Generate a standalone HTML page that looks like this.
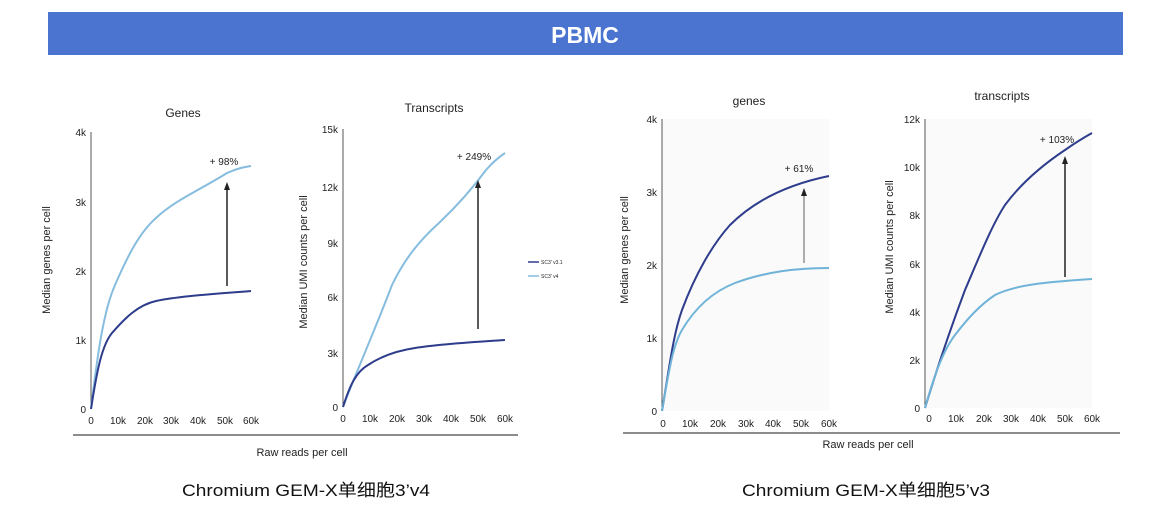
<!DOCTYPE html>
<html><head><meta charset="utf-8"><style>
body{margin:0;background:#fff;width:1155px;height:530px;overflow:hidden}
svg{display:block}
text{font-family:"Liberation Sans",Arial,sans-serif;fill:#222}
</style></head><body>
<svg width="1155" height="530" viewBox="0 0 1155 530" xmlns="http://www.w3.org/2000/svg">
<rect x="48" y="12" width="1075" height="43" fill="#4a74cf"/>
<text x="585" y="43" text-anchor="middle" font-size="23" font-weight="bold" style="fill:#fff">PBMC</text>

<g font-size="10" fill="none">
<!-- Chart 1 Genes -->
<text x="183" y="117" text-anchor="middle" font-size="12">Genes</text>
<line x1="91" y1="132" x2="91" y2="409" stroke="#555"/>
<g text-anchor="end" font-size="10"><text x="86" y="413">0</text><text x="86" y="344">1k</text><text x="86" y="275">2k</text><text x="86" y="206">3k</text><text x="86" y="136">4k</text></g>
<g text-anchor="middle" font-size="10"><text x="91" y="424">0</text><text x="118" y="424">10k</text><text x="145" y="424">20k</text><text x="171" y="424">30k</text><text x="198" y="424">40k</text><text x="225" y="424">50k</text><text x="251" y="424">60k</text></g>
<text transform="translate(50,260) rotate(-90)" text-anchor="middle" font-size="11">Median genes per cell</text>
<path d="M91,409 C98,350 104,310 115,285 C128,255 140,232 156,218 C175,200 200,190 227,173 C238,168 245,167 251,166" stroke="#86bddf" stroke-width="2" fill="none"/>
<path d="M91,409 C97,370 102,345 112,333 C125,318 138,305 156,301 C180,296 215,294 251,291" stroke="#2e3c8c" stroke-width="2" fill="none"/>
<line x1="227" y1="286" x2="227" y2="188" stroke="#222" stroke-width="1.5"/><path d="M224,190 L227,182 L230,190Z" fill="#222"/>
<text x="224" y="165" text-anchor="middle" font-size="10">+ 98%</text>

<!-- Chart 2 Transcripts -->
<text x="434" y="112" text-anchor="middle" font-size="12">Transcripts</text>
<line x1="343" y1="129" x2="343" y2="407" stroke="#555"/>
<g text-anchor="end" font-size="10"><text x="338" y="411">0</text><text x="338" y="357">3k</text><text x="338" y="301">6k</text><text x="338" y="247">9k</text><text x="338" y="191">12k</text><text x="338" y="133">15k</text></g>
<g text-anchor="middle" font-size="10"><text x="343" y="422">0</text><text x="370" y="422">10k</text><text x="397" y="422">20k</text><text x="424" y="422">30k</text><text x="451" y="422">40k</text><text x="478" y="422">50k</text><text x="505" y="422">60k</text></g>
<text transform="translate(307,262) rotate(-90)" text-anchor="middle" font-size="11">Median UMI counts per cell</text>
<path d="M343,407 C355,375 375,330 392,285 C405,258 420,240 440,222 C460,203 475,185 486,170 C493,162 499,157 505,153" stroke="#86bddf" stroke-width="2" fill="none"/>
<path d="M343,407 C350,385 356,372 368,365 C380,357 395,351 415,348 C440,344 475,342 505,340" stroke="#2e3c8c" stroke-width="2" fill="none"/>
<line x1="478" y1="329" x2="478" y2="186" stroke="#222" stroke-width="1.5"/><path d="M475,188 L478,180 L481,188Z" fill="#222"/>
<text x="474" y="160" text-anchor="middle" font-size="10">+ 249%</text>
<line x1="528" y1="262" x2="539" y2="262" stroke="#2e3c8c" stroke-width="1.5"/><text x="541" y="264" font-size="5">SC3' v3.1</text>
<line x1="528" y1="276" x2="539" y2="276" stroke="#86bddf" stroke-width="1.5"/><text x="541" y="278" font-size="5">SC3' v4</text>

<line x1="73" y1="435" x2="518" y2="435" stroke="#666" stroke-width="1.5"/>
<text x="302" y="456" text-anchor="middle" font-size="11">Raw reads per cell</text>

<!-- Chart 3 genes -->
<rect x="662" y="119" width="167" height="292" fill="#fafafa"/>
<text x="749" y="105" text-anchor="middle" font-size="12">genes</text>
<line x1="662" y1="119" x2="662" y2="411" stroke="#555"/>
<g text-anchor="end" font-size="10"><text x="657" y="415">0</text><text x="657" y="342">1k</text><text x="657" y="269">2k</text><text x="657" y="196">3k</text><text x="657" y="123">4k</text></g>
<g text-anchor="middle" font-size="10"><text x="663" y="427">0</text><text x="690" y="427">10k</text><text x="718" y="427">20k</text><text x="746" y="427">30k</text><text x="773" y="427">40k</text><text x="801" y="427">50k</text><text x="829" y="427">60k</text></g>
<text transform="translate(628,250) rotate(-90)" text-anchor="middle" font-size="11">Median genes per cell</text>
<path d="M662,411 C669,370 673,335 682,310 C695,275 712,245 730,225 C755,200 790,184 829,176" stroke="#2e3c8c" stroke-width="2" fill="none"/>
<path d="M662,411 C669,370 673,345 682,330 C695,308 712,292 735,283 C765,272 795,268 829,268" stroke="#6fb4d8" stroke-width="2" fill="none"/>
<line x1="804" y1="263" x2="804" y2="194" stroke="#777" stroke-width="1.2"/><path d="M801,196 L804,188 L807,196Z" fill="#222"/>
<text x="799" y="172" text-anchor="middle" font-size="10">+ 61%</text>

<!-- Chart 4 transcripts -->
<rect x="925" y="119" width="167" height="289" fill="#fafafa"/>
<text x="1002" y="100" text-anchor="middle" font-size="12">transcripts</text>
<line x1="925" y1="119" x2="925" y2="408" stroke="#555"/>
<g text-anchor="end" font-size="10"><text x="920" y="412">0</text><text x="920" y="364">2k</text><text x="920" y="316">4k</text><text x="920" y="268">6k</text><text x="920" y="219">8k</text><text x="920" y="171">10k</text><text x="920" y="123">12k</text></g>
<g text-anchor="middle" font-size="10"><text x="929" y="422">0</text><text x="956" y="422">10k</text><text x="984" y="422">20k</text><text x="1011" y="422">30k</text><text x="1038" y="422">40k</text><text x="1065" y="422">50k</text><text x="1092" y="422">60k</text></g>
<text transform="translate(893,247) rotate(-90)" text-anchor="middle" font-size="11">Median UMI counts per cell</text>
<path d="M925,408 C935,375 950,330 965,290 C980,255 992,225 1005,205 C1025,178 1050,160 1065,150 C1075,143 1083,138 1092,133" stroke="#2e3c8c" stroke-width="2" fill="none"/>
<path d="M925,408 C933,380 942,352 955,335 C968,318 980,305 995,295 C1015,285 1045,282 1092,279" stroke="#6fb4d8" stroke-width="2" fill="none"/>
<line x1="1065" y1="277" x2="1065" y2="162" stroke="#222" stroke-width="1.5"/><path d="M1062,164 L1065,156 L1068,164Z" fill="#222"/>
<text x="1057" y="143" text-anchor="middle" font-size="10">+ 103%</text>

<line x1="623" y1="433" x2="1120" y2="433" stroke="#666" stroke-width="1.5"/>
<text x="868" y="448" text-anchor="middle" font-size="11">Raw reads per cell</text>
</g>

<text x="182" y="496" font-size="17" textLength="248" lengthAdjust="spacingAndGlyphs" style="font-family:'Liberation Sans','Noto Sans CJK SC',sans-serif;fill:#111">Chromium GEM-X单细胞3’v4</text>
<text x="742" y="496" font-size="17" textLength="248" lengthAdjust="spacingAndGlyphs" style="font-family:'Liberation Sans','Noto Sans CJK SC',sans-serif;fill:#111">Chromium GEM-X单细胞5’v3</text>
</svg>
</body></html>
